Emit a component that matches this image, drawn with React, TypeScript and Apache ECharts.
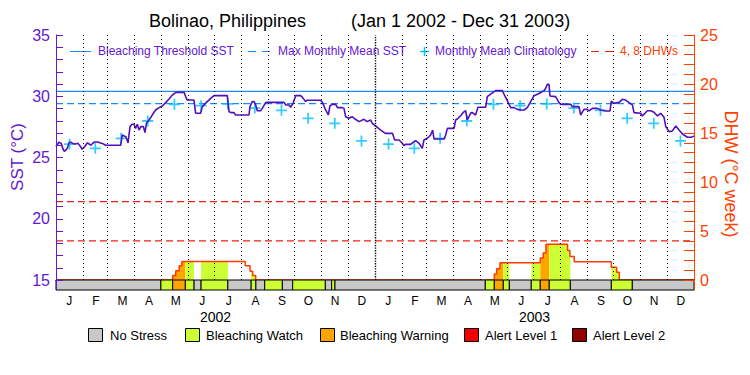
import React, { useEffect, useRef } from "react";
import * as echarts from "echarts";

const FONT = "'Liberation Sans', Arial, sans-serif";
const PURPLE = "#6418d2";
const SST_COLOR = "#5010bc";
const ORANGE = "#ff4000";
const THRESH_COLOR = "#1a8cff";
const CLIM_COLOR = "#00bfff";
const DHW_LINE_COLOR = "#ff3a00";
const DHW_REF_COLOR = "#f01e10";

// day offsets (from Jan 1 2002) at which each month starts, last = end of Dec 31 2003
const monthStarts = [0, 31, 59, 90, 120, 151, 181, 212, 243, 273, 304, 334, 365, 396, 424, 455, 485, 516, 546, 577, 608, 638, 669, 699, 730];
const monthLabels = ["J", "F", "M", "A", "M", "J", "J", "A", "S", "O", "N", "D", "J", "F", "M", "A", "M", "J", "J", "A", "S", "O", "N", "D"];
const yearLabels = ["2002", "2003"];
const yearStart = 365;
const dayRange = [0, 730];

// SST (°C) [day, value]
const sstSeries: [number, number][] = [
  [0, 25.9], [2, 26.1], [3.4, 26.25], [6, 26.15], [8, 25.7], [9.5, 25.5], [11, 25.6], [13, 25.75], [15, 26.2], [17, 26.25], [19, 26.15], [22.5, 26.1], [25, 26.16], [28, 25.9], [30, 25.67], [33, 25.9], [35.9, 26.2], [38, 26.1], [39.7, 26.0], [42, 26.15], [44, 26.27], [48, 26.27], [50, 26.2], [53, 26.15], [56.8, 26.0], [74, 26.0], [75.9, 26.84], [78, 26.76], [80, 26.7], [82.4, 26.2], [84.7, 27.52], [87, 27.71], [89.2, 27.71], [91, 27.38], [93, 27.71], [95, 27.24], [97, 27.52], [100, 27.52], [101.8, 27.03], [103.5, 27.79], [106.4, 28.06], [109, 28.33], [111.4, 28.61], [114, 28.88], [117.9, 29.07], [121.7, 29.2], [125.5, 29.48], [129.3, 29.78], [133.1, 30.1], [137, 30.32], [146.5, 30.32], [148.4, 29.97], [150, 29.69], [157.9, 29.69], [159.8, 28.61], [165.5, 28.61], [167.4, 29.15], [171, 29.42], [177, 29.83], [180.8, 30.05], [196, 30.05], [198, 28.74], [201, 28.66], [203.7, 28.66], [205.5, 28.47], [220.8, 28.47], [222, 29.15], [224.5, 29.56], [226.6, 29.56], [228.5, 29.29], [230.3, 28.82], [234.2, 28.82], [236, 29.01], [239.9, 29.48], [241, 29.5], [260.9, 29.5], [263, 29.29], [266.6, 29.29], [268.5, 29.1], [271.6, 29.48], [274.2, 30.05], [279.9, 30.05], [282, 29.91], [285.6, 29.56], [287, 29.67], [302.8, 29.67], [305, 29.48], [308.5, 28.88], [311.6, 28.47], [313.5, 29.23], [316.2, 29.34], [320, 29.34], [322, 29.07], [327.6, 29.07], [329.5, 29.01], [331.4, 28.33], [335, 28.2], [338.8, 28.33], [342.6, 28.12], [346.7, 27.93], [352.4, 28.12], [356, 27.93], [360, 28.06], [362, 27.79], [365, 27.6], [368, 27.45], [371.5, 27.24], [377, 26.97], [385, 26.97], [387.5, 26.43], [392.5, 26.43], [396.3, 26.16], [398.2, 25.96], [400, 26.07], [405.8, 26.07], [408, 26.21], [411.5, 26.37], [415.4, 26.16], [419.1, 25.75], [421, 26.43], [424.9, 26.57], [428.7, 26.84], [431, 27.24], [432.5, 26.51], [444, 26.51], [445.9, 26.84], [447.8, 27.38], [455.4, 27.38], [457.3, 28.06], [460, 28.2], [463.8, 28.47], [466, 28.69], [468.7, 28.82], [470.6, 28.06], [474.4, 28.61], [476, 28.69], [480.1, 28.47], [482.8, 29.1], [491.6, 29.1], [493.5, 29.97], [497.3, 30.18], [503, 30.46], [510.7, 30.46], [512.6, 30.18], [516.4, 29.64], [520.2, 29.07], [524, 29.07], [527.8, 28.93], [531.7, 28.88], [535.5, 28.88], [539.3, 29.07], [543.1, 29.56], [546.9, 30.05], [552, 30.2], [556, 30.37], [558.4, 30.45], [560.3, 30.65], [562.2, 30.97], [564.1, 30.97], [565.2, 30.02], [571.7, 29.97], [575.5, 29.48], [577.4, 29.34], [588.9, 29.34], [590.8, 29.15], [598.4, 29.15], [600.3, 28.47], [604.1, 28.93], [607.9, 28.93], [609.9, 28.8], [613.7, 29.01], [619.4, 29.01], [623.2, 28.88], [628.9, 28.8], [633.9, 28.8], [635.4, 29.61], [638.5, 29.42], [644.2, 29.5], [648, 29.75], [651.8, 29.69], [655.7, 29.48], [659.5, 29.29], [661.4, 28.66], [669, 28.61], [670.9, 28.39], [676.6, 28.82], [680.5, 28.82], [684.3, 28.69], [688.1, 28.39], [691.9, 28.61], [695.7, 28.28], [697.7, 27.52], [701.5, 27.11], [705.3, 27.17], [709.1, 27.57], [712.9, 27.24], [716.7, 26.92], [722.5, 26.65], [726.3, 26.65], [728.5, 26.7], [730, 26.76],
];

// Monthly mean climatology (°C), Jan..Dec
const climatology = [26.1, 25.75, 26.57, 27.98, 29.34, 29.23, 29.37, 29.04, 28.85, 28.2, 27.79, 26.35];
const bleachingThreshold = 30.4;
const maxMonthlyMean = 29.4;
const dhwRefLevels = [4, 8];

// Degree heating weeks, step function: value holds from day[i] to day[i+1]
const dhwDays = [0, 133.5, 137, 141, 144, 216.5, 222, 225, 228.5, 501.5, 504.2, 508, 554.1, 557.5, 560.6, 585.3, 588, 593, 635.4, 641.5, 644.5, 730];
const dhwVals = [0, 0.45, 0.95, 1.45, 1.9, 1.45, 0.9, 0.45, 0, 0.6, 1.15, 1.75, 2.25, 2.75, 3.65, 3.0, 2.4, 1.85, 1.3, 0.8, 0, 0];

// Bleaching stress level per interval between consecutive bounds
const stressBounds = [0, 120, 133.5, 148, 158, 166, 196.6, 223.3, 228.7, 238.8, 259, 270.8, 308.2, 315.4, 319.2, 491.2, 501.5, 511.8, 518.7, 543.8, 554.1, 564.4, 588.5, 635.4, 659.4, 730];
const stressLevels = [0, 1, 2, 1, 0, 1, 0, 1, 0, 1, 0, 1, 0, 1, 0, 1, 2, 1, 0, 1, 2, 1, 0, 1, 0];
const stressColors = ["#c8c8c8", "#ccff33", "#ffa500", "#f00000", "#900000"];
const stressNames = ["No Stress", "Bleaching Watch", "Bleaching Warning", "Alert Level 1", "Alert Level 2"];

function dhwAt(t: number): number {
  let v = dhwVals[0];
  for (let i = 0; i < dhwDays.length; i++) {
    if (dhwDays[i] <= t) v = dhwVals[i];
    else break;
  }
  return v;
}

function hLine(name: string, yIdx: number, value: number, color: string, type: any, z: number, width: number) {
  return {
    type: "line",
    name,
    xAxisIndex: 0,
    yAxisIndex: yIdx,
    z,
    silent: true,
    showSymbol: false,
    symbol: "none",
    data: dayRange.map((d) => [d, value]),
    lineStyle: { color, type, width },
  };
}

export default function App() {
  const ref = useRef<HTMLDivElement>(null);
  useEffect(() => {
    if (!ref.current) return;
    const chart = echarts.init(ref.current, undefined, { renderer: "svg" });

    const segments = stressLevels.map((lv, i) => [stressBounds[i], stressBounds[i + 1], lv]);
    const stressedSegments = segments.filter((s) => s[2] > 0);
    const climData: [number, number][] = [];
    for (let m = 0; m < 24; m++) {
      climData.push([(monthStarts[m] + monthStarts[m + 1]) / 2, climatology[m % 12]]);
    }
    const dhwData = dhwDays.map((d, i) => [d, dhwVals[i]]);
    const monthLines: any[] = monthStarts
      .filter((d) => d > 0 && d < 730 && d !== yearStart)
      .map((d) => ({ xAxis: d }));
    monthLines.push({ xAxis: yearStart, lineStyle: { color: "#000", type: [1.3, 1.3], width: 1.4 } });

    // legends
    const topY = 51.5;
    const legendTexts = [
      { x: 98, text: "Bleaching Threshold SST", color: PURPLE },
      { x: 278, text: "Max Monthly Mean SST", color: PURPLE },
      { x: 435, text: "Monthly Mean Climatology", color: PURPLE },
      { x: 620, text: "4, 8 DHWs", color: ORANGE },
    ];
    const graphics: any[] = [
      { type: "line", shape: { x1: 70, y1: topY, x2: 91, y2: topY }, style: { stroke: THRESH_COLOR, lineWidth: 1 } },
      { type: "line", shape: { x1: 248, y1: topY, x2: 272, y2: topY }, style: { stroke: THRESH_COLOR, lineWidth: 1, lineDash: [8, 6] } },
      { type: "line", shape: { x1: 420, y1: topY, x2: 429, y2: topY }, style: { stroke: CLIM_COLOR, lineWidth: 1.5 } },
      { type: "line", shape: { x1: 424.5, y1: topY - 4.5, x2: 424.5, y2: topY + 4.5 }, style: { stroke: CLIM_COLOR, lineWidth: 1.5 } },
      { type: "line", shape: { x1: 591, y1: topY, x2: 615, y2: topY }, style: { stroke: DHW_REF_COLOR, lineWidth: 1, lineDash: [8, 6] } },
      ...legendTexts.map((t) => ({
        type: "text",
        x: t.x,
        y: 51,
        style: { text: t.text, fill: t.color, fontSize: 12, fontFamily: FONT, align: "left", verticalAlign: "middle" },
      })),
      {
        type: "text", x: 17, y: 157, rotation: Math.PI / 2,
        style: { text: "SST (°C)", fill: PURPLE, fontSize: 17, fontFamily: FONT, align: "center", verticalAlign: "middle" },
      },
      {
        type: "text", x: 731, y: 174, rotation: -Math.PI / 2,
        style: { text: "DHW (°C week)", fill: ORANGE, fontSize: 18, fontFamily: FONT, align: "center", verticalAlign: "middle" },
      },
    ];
    const boxX = [88, 185, 320, 464, 572];
    const txtX = [110, 206, 340, 485, 593];
    stressNames.forEach((n, i) => {
      graphics.push({ type: "rect", shape: { x: boxX[i] + 0.5, y: 328.5, width: 14, height: 13 }, style: { fill: stressColors[i], stroke: "#000", lineWidth: 1 } });
      graphics.push({ type: "text", x: txtX[i], y: 335, style: { text: n, fill: "#000", fontSize: 13, fontFamily: FONT, align: "left", verticalAlign: "middle" } });
    });

    const option: any = {
      animation: false,
      textStyle: { fontFamily: FONT },
      title: [
        { text: "Bolinao, Philippines", left: 149, top: 12, padding: 0, textStyle: { fontSize: 18, fontWeight: "normal", color: "#000", fontFamily: FONT } },
        { text: "(Jan 1 2002 - Dec 31 2003)", left: 351, top: 12, padding: 0, textStyle: { fontSize: 18, fontWeight: "normal", color: "#000", fontFamily: FONT } },
      ],
      grid: [
        { left: 56, right: 56, top: 35, height: 245 },
        { left: 56, right: 56, top: 280, height: 10 },
      ],
      xAxis: [
        { gridIndex: 0, type: "value", min: 0, max: 730, position: "top", axisLine: { show: true, lineStyle: { color: "#000", width: 1 } }, axisTick: { show: false }, axisLabel: { show: false }, splitLine: { show: false } },
        { gridIndex: 1, type: "value", min: 0, max: 730, show: false },
        { gridIndex: 1, type: "category", data: monthLabels, position: "bottom", boundaryGap: true, axisLine: { show: false }, axisTick: { show: false }, axisLabel: { interval: 0, margin: 5, fontSize: 12, color: "#000", fontFamily: FONT } },
        { gridIndex: 1, type: "category", data: yearLabels, position: "bottom", offset: 16, boundaryGap: true, axisLine: { show: false }, axisTick: { show: false }, axisLabel: { interval: 0, margin: 4, fontSize: 14, color: "#000", fontFamily: FONT } },
      ],
      yAxis: [
        {
          gridIndex: 0, type: "value", min: 15, max: 35, interval: 5, position: "left", z: 10,
          axisLine: { show: true, lineStyle: { color: PURPLE, width: 1 } },
          axisTick: { show: true, inside: true, length: 7, lineStyle: { color: PURPLE } },
          minorTick: { show: true, splitNumber: 5, length: 7, lineStyle: { color: PURPLE } },
          axisLabel: { color: PURPLE, fontSize: 16, margin: 6, fontFamily: FONT },
          splitLine: { show: false },
        },
        {
          gridIndex: 0, type: "value", min: 0, max: 25, interval: 5, position: "right", z: 10,
          axisLine: { show: true, lineStyle: { color: ORANGE, width: 1 } },
          axisTick: { show: true, inside: true, length: 10, lineStyle: { color: ORANGE } },
          minorTick: { show: true, splitNumber: 5, length: 10, lineStyle: { color: ORANGE } },
          axisLabel: { color: ORANGE, fontSize: 16, margin: 6, fontFamily: FONT },
          splitLine: { show: false },
        },
        { gridIndex: 1, type: "value", min: 0, max: 1, position: "left", z: 10, axisLine: { show: true, lineStyle: { color: PURPLE } }, axisTick: { show: false }, axisLabel: { show: false }, splitLine: { show: false } },
        { gridIndex: 1, type: "value", min: 0, max: 1, position: "right", z: 10, axisLine: { show: true, lineStyle: { color: ORANGE } }, axisTick: { show: false }, axisLabel: { show: false }, splitLine: { show: false } },
      ],
      series: [
        {
          type: "custom",
          name: "DHW fill",
          xAxisIndex: 0,
          yAxisIndex: 1,
          z: 1,
          silent: true,
          clip: true,
          data: stressedSegments,
          renderItem: (params: any, api: any) => {
            const s = api.value(0);
            const e = api.value(1);
            const lv = api.value(2);
            const pts: number[][] = [];
            let v = dhwAt(s);
            pts.push(api.coord([s, 0]));
            pts.push(api.coord([s, v]));
            for (let i = 0; i < dhwDays.length; i++) {
              const d = dhwDays[i];
              if (d > s && d < e) {
                pts.push(api.coord([d, v]));
                v = dhwVals[i];
                pts.push(api.coord([d, v]));
              }
            }
            pts.push(api.coord([e, v]));
            pts.push(api.coord([e, 0]));
            return { type: "polygon", shape: { points: pts }, style: { fill: stressColors[lv], stroke: null } };
          },
        },
        ...dhwRefLevels.map((v) => hLine("DHW " + v, 1, v, DHW_REF_COLOR, [7, 4], 2, 1.3)),
        hLine("Max Monthly Mean SST", 0, maxMonthlyMean, THRESH_COLOR, [7, 4], 2, 1.4),
        hLine("Bleaching Threshold SST", 0, bleachingThreshold, THRESH_COLOR, "solid", 2, 1.3),
        {
          type: "line",
          name: "DHW",
          xAxisIndex: 0,
          yAxisIndex: 1,
          step: "end",
          z: 3,
          showSymbol: false,
          symbol: "none",
          silent: true,
          data: dhwData,
          lineStyle: { color: DHW_LINE_COLOR, width: 1.5 },
        },
        {
          type: "scatter",
          name: "Monthly Mean Climatology",
          xAxisIndex: 0,
          yAxisIndex: 0,
          z: 3,
          silent: true,
          symbol: "path://M4.2,0H5.8V4.2H10V5.8H5.8V10H4.2V5.8H0V4.2H4.2Z",
          symbolSize: 11,
          itemStyle: { color: CLIM_COLOR },
          data: climData,
        },
        {
          type: "line",
          name: "SST",
          xAxisIndex: 0,
          yAxisIndex: 0,
          z: 4,
          showSymbol: false,
          symbol: "none",
          silent: true,
          data: sstSeries,
          lineStyle: { color: SST_COLOR, width: 1.6 },
          markLine: {
            silent: true,
            symbol: ["none", "none"],
            label: { show: false },
            lineStyle: { color: "#000", type: [1, 3], width: 1 },
            data: monthLines,
          },
        },
        {
          type: "custom",
          name: "Stress",
          xAxisIndex: 1,
          yAxisIndex: 2,
          z: 5,
          silent: true,
          data: segments,
          renderItem: (params: any, api: any) => {
            const s = api.value(0);
            const e = api.value(1);
            const lv = api.value(2);
            const p0 = api.coord([s, 1]);
            const p1 = api.coord([e, 0]);
            return {
              type: "rect",
              shape: { x: p0[0], y: p0[1], width: p1[0] - p0[0], height: p1[1] - p0[1] },
              style: { fill: stressColors[lv], stroke: "#000", lineWidth: 1 },
            };
          },
        },
      ],
      graphic: graphics,
    };
    chart.setOption(option);
    return () => chart.dispose();
  }, []);
  return <div ref={ref} style={{ position: "fixed", left: 0, top: 0, width: 750, height: 375, background: "#fff" }} />;
}
